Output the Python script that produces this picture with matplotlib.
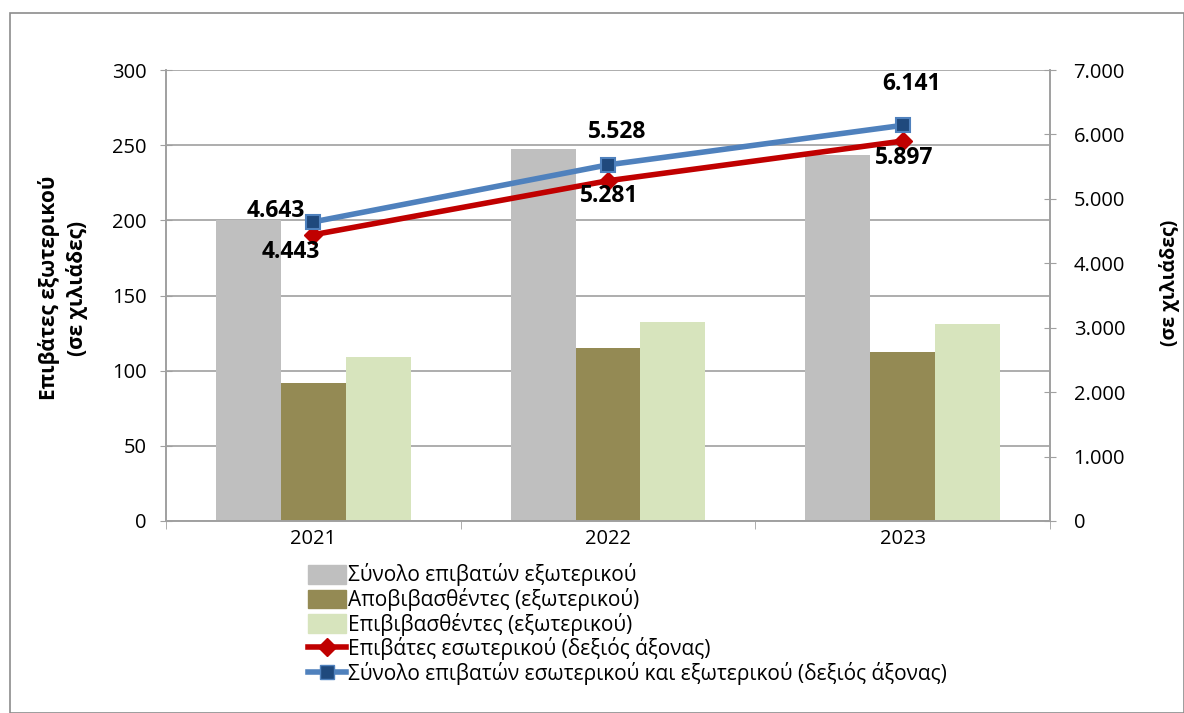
import matplotlib
matplotlib.use("Agg")
import matplotlib.pyplot as plt
import numpy as np
from matplotlib.lines import Line2D
from matplotlib.patches import Patch, Rectangle

plt.rcParams['font.family'] = ['Open Sans', 'DejaVu Sans']

years = ['2021', '2022', '2023']
total_abroad = [200.5, 247.3, 243.6]
disembarked = [91.5, 115.0, 112.5]
embarked = [109.0, 132.3, 131.1]
domestic = [4443, 5281, 5897]
grand_total = [4643, 5528, 6141]

lbl_total_abroad = 'Σύνολο επιβατών εξωτερικού'
lbl_dis = 'Αποβιβασθέντες (εξωτερικού)'
lbl_emb = 'Επιβιβασθέντες (εξωτερικού)'
lbl_dom = 'Επιβάτες εσωτερικού (δεξιός άξονας)'
lbl_tot = 'Σύνολο επιβατών εσωτερικού και εξωτερικού (δεξιός άξονας)'

c_gray = '#BFBFBF'
c_olive = '#948A54'
c_light = '#D7E4BD'
c_red = '#C00000'
c_blue = '#4F81BD'
c_blue_dark = '#1F497D'
axis_col = '#A0A0A0'

DPI = 100
PX = 72.0 / DPI  # points per pixel

fig = plt.figure(figsize=(11.84, 7.13), dpi=DPI)
fig.patches.append(Rectangle((10/1184, 0), 1 - 10/1184, 1 - 13/713, transform=fig.transFigure,
                             fill=False, edgecolor='#8C8C8C', linewidth=1.2, zorder=0))
ax = fig.add_axes([166/1184, 1 - 521/713, (1050-166)/1184, (521-70)/713])
ax2 = ax.twinx()

x = np.arange(len(years))
w = 0.22
ax.bar(x - w, total_abroad, w, color=c_gray, zorder=2)
ax.bar(x, disembarked, w, color=c_olive, zorder=2)
ax.bar(x + w, embarked, w, color=c_light, zorder=2)

ax.set_xlim(-0.5, 2.5)
ax.set_ylim(0, 300)
ax.set_yticks(np.arange(0, 301, 50))
ax.yaxis.grid(True, color=axis_col, linewidth=1.2, zorder=0)
ax.set_axisbelow(True)
ax.set_xticks(x)
ax.set_xticklabels(years, fontsize=14.5)
ax.set_xticks([-0.5, 0.5, 1.5, 2.5], minor=True)
ax.tick_params(axis='x', which='major', length=0, pad=6)
ax.tick_params(axis='x', which='minor', length=6, color=axis_col, direction='out')
ax.tick_params(axis='y', labelsize=14.5, length=8, direction='inout', color=axis_col, pad=10)
for s in ['top']:
    ax.spines[s].set_visible(False)
    ax2.spines[s].set_visible(False)
for s in ['left', 'bottom', 'right']:
    ax.spines[s].set_color(axis_col)
    ax2.spines[s].set_color(axis_col)
    ax.spines[s].set_linewidth(1.2)
    ax2.spines[s].set_linewidth(1.2)

ax2.plot(x, domestic, color=c_red, linewidth=4, marker='D', markersize=9,
         markerfacecolor=c_red, markeredgecolor=c_red, zorder=3)
ax2.plot(x, grand_total, color=c_blue, linewidth=4, marker='s', markersize=10,
         markerfacecolor=c_blue_dark, markeredgecolor=c_blue, markeredgewidth=1.5, zorder=4)
ax2.set_ylim(0, 7000)
ax2.set_yticks(np.arange(0, 7001, 1000))
ax2.set_yticklabels(['0' if v == 0 else f'{v//1000}.{v%1000:03d}' for v in range(0, 7001, 1000)])
ax2.tick_params(axis='y', labelsize=14.5, length=8, direction='inout', color=axis_col, pad=13)

def fmt(v):
    return f'{v//1000}.{v%1000:03d}'

# data label offsets in pixels (dx, dy, ha)
offs_tot = [(-8, 11, 'right'), (9, 33, 'center'), (9, 41, 'center')]
offs_dom = [(-23, -17, 'center'), (1, -15, 'center'), (2, -17, 'center')]
for i in range(len(years)):
    dx, dy, ha = offs_tot[i]
    ax2.annotate(fmt(grand_total[i]), (x[i], grand_total[i]), xytext=(dx*PX, dy*PX),
                 textcoords='offset points', ha=ha, va='center', fontsize=16.5,
                 fontweight='bold', zorder=6)
    dx, dy, ha = offs_dom[i]
    ax2.annotate(fmt(domestic[i]), (x[i], domestic[i]), xytext=(dx*PX, dy*PX),
                 textcoords='offset points', ha=ha, va='center', fontsize=16.5,
                 fontweight='bold', zorder=6)

fig.text(63/1184, 1 - 288/713, 'Επιβάτες εξωτερικού\n(σε χιλιάδες)', rotation=90,
         ha='center', va='center', fontsize=15, fontweight='bold', linespacing=1.35)
fig.text(1170/1184, 1 - 283/713, '(σε χιλιάδες)', rotation=90,
         ha='center', va='center', fontsize=14, fontweight='bold')

handles = [Patch(color=c_gray), Patch(color=c_olive), Patch(color=c_light),
           Line2D([], [], color=c_red, linewidth=4, marker='D', markersize=9),
           Line2D([], [], color=c_blue, linewidth=4, marker='s', markersize=10,
                  markerfacecolor=c_blue_dark, markeredgecolor=c_blue)]
labels = [lbl_total_abroad, lbl_dis, lbl_emb, lbl_dom, lbl_tot]
fig.legend(handles, labels, loc='upper left', bbox_to_anchor=(300/1184, 1 - 555/713),
           frameon=False, fontsize=15, handlelength=1.8, handleheight=1.0,
           labelspacing=0.08, handletextpad=0.1, borderaxespad=0)

fig.savefig('out.png', dpi=DPI)
